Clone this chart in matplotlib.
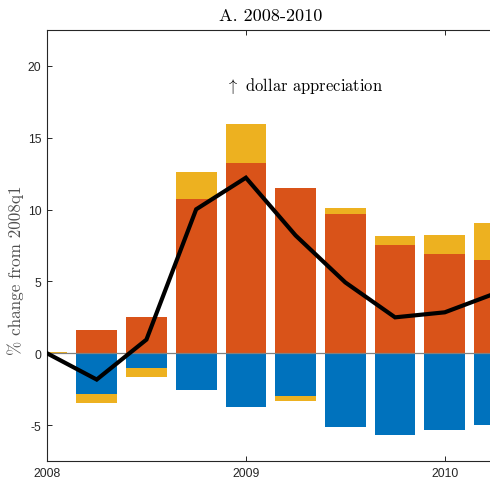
import numpy as np
import matplotlib
matplotlib.use('Agg')
import matplotlib.pyplot as plt

plt.rcParams['mathtext.fontset'] = 'cm'

# quarters 2008q1 .. 2010q2, in years
quarters = [2008.0, 2008.25, 2008.5, 2008.75, 2009.0, 2009.25, 2009.5, 2009.75, 2010.0, 2010.25]
orange_vals = [0.0, 1.64, 2.54, 10.76, 13.22, 11.5, 9.72, 7.57, 6.94, 6.5]
yellow_vals = [0.12, -0.6, -0.58, 1.83, 2.72, -0.3, 0.42, 0.62, 1.3, 2.6]
blue_vals = [0.0, -2.87, -1.04, -2.55, -3.75, -2.99, -5.14, -5.72, -5.33, -4.98]
total = [0.0, -1.83, 0.95, 10.02, 12.22, 8.2, 4.93, 2.5, 2.85, 4.15]

c_blue = (0.0, 0.447, 0.741)
c_orange = (0.85, 0.325, 0.098)
c_yellow = (0.929, 0.694, 0.125)
axcol = '#262626'

fig = plt.figure(figsize=(4.9, 4.81), dpi=100)
ax = fig.add_axes([0.0959, 0.0395, 0.9133, 0.896])

x = np.array(quarters)
yel = np.array(yellow_vals)
yel_bottom = np.where(yel >= 0, orange_vals, blue_vals)
w = 0.205
ax.bar(x, blue_vals, w, color=c_blue, edgecolor='none', zorder=2)
ax.bar(x, orange_vals, w, color=c_orange, edgecolor='none', zorder=2)
ax.bar(x, yel, w, bottom=yel_bottom, color=c_yellow, edgecolor='none', zorder=2)

ax.axhline(0, color='#808080', lw=0.9, zorder=3)
ax.plot(x, total, color='k', lw=3, zorder=4, solid_joinstyle='miter')

ax.set_xlim(2008, 2010.25)
ax.set_ylim(-7.5, 22.5)
ax.set_xticks([2008, 2009, 2010])
ax.set_xticklabels(['2008', '2009', '2010'])
ax.set_yticks([-5, 0, 5, 10, 15, 20])
ax.set_yticklabels(['-5', '0', '5', '10', '15', '20'])
ax.tick_params(direction='in', length=3.6, width=0.7, colors=axcol,
               top=True, right=True, labelsize=8.7, pad=4)
for lab in ax.get_xticklabels() + ax.get_yticklabels():
    lab.set_family('Liberation Sans')
for s in ax.spines.values():
    s.set_color(axcol)
    s.set_linewidth(0.8)

ax.set_title('A. 2008-2010', fontfamily='cmr10', fontsize=13.1, pad=7, color='k')
ax.set_ylabel('% change from 2008q1', fontfamily='cmr10', fontsize=12.3, color='#505050')
ax.yaxis.set_label_coords(-0.052, 0.445)
ax.text(2008.9, 18.7, r'$\uparrow$ dollar appreciation', fontfamily='cmr10',
        fontsize=11.9, ha='left', va='center', color='k')

fig.savefig('out.png', dpi=100)
